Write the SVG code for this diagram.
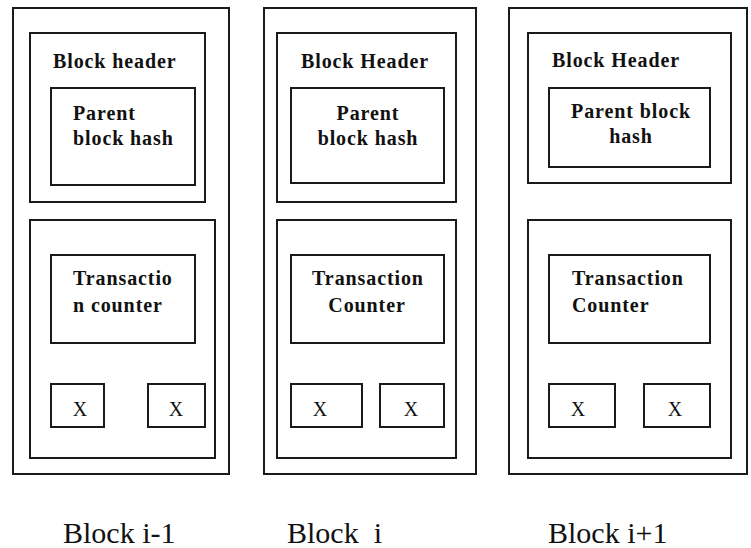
<svg xmlns="http://www.w3.org/2000/svg" width="751" height="548" viewBox="0 0 751 548">
<style>
rect{fill:#fff;stroke:#1a1a1a;stroke-width:2}
text{font-family:'Liberation Serif','Times New Roman',Tinos,'DejaVu Serif',serif;fill:#111}
.b{font-weight:bold;font-size:20px;letter-spacing:0.9px}
.x{font-size:20px;text-anchor:middle}
.l{font-size:30px}
.c{text-anchor:middle}
</style>
<rect x="0" y="0" width="751" height="548" style="stroke:none"/>
<g id="block1">
<rect x="13" y="8" width="216" height="466"/>
<rect x="30" y="33" width="175" height="169"/>
<text class="b" x="53" y="68">Block header</text>
<rect x="51" y="88" width="144" height="97"/>
<text class="b" x="73" y="120">Parent</text>
<text class="b" x="73" y="145">block hash</text>
<rect x="30" y="220" width="185" height="238"/>
<rect x="51" y="255" width="144" height="88"/>
<text class="b" x="73" y="285">Transactio</text>
<text class="b" x="73" y="312">n counter</text>
<rect x="51" y="384" width="53" height="43"/>
<text class="x" x="80" y="416">X</text>
<rect x="148" y="384" width="57" height="43"/>
<text class="x" x="176" y="416">X</text>
</g>
<g id="block2">
<rect x="264" y="8" width="212" height="466"/>
<rect x="277" y="33" width="179" height="169"/>
<text class="b c" x="365" y="68">Block Header</text>
<rect x="291" y="88" width="153" height="95"/>
<text class="b c" x="368" y="120">Parent</text>
<text class="b c" x="368" y="145">block hash</text>
<rect x="277" y="220" width="179" height="238"/>
<rect x="291" y="255" width="153" height="88"/>
<text class="b c" x="368" y="285">Transaction</text>
<text class="b c" x="367" y="312">Counter</text>
<rect x="291" y="384" width="71" height="43"/>
<text class="x" x="320" y="416">X</text>
<rect x="380" y="384" width="64" height="43"/>
<text class="x" x="411" y="416">X</text>
</g>
<g id="block3">
<rect x="509" y="8" width="238" height="466"/>
<rect x="528" y="33" width="203" height="150"/>
<text class="b" x="552" y="67">Block Header</text>
<rect x="549" y="88" width="161" height="79"/>
<text class="b c" x="631" y="118">Parent block</text>
<text class="b c" x="631" y="143">hash</text>
<rect x="528" y="220" width="203" height="238"/>
<rect x="549" y="255" width="161" height="88"/>
<text class="b" x="572" y="285">Transaction</text>
<text class="b" x="572" y="312">Counter</text>
<rect x="549" y="384" width="66" height="43"/>
<text class="x" x="578" y="416">X</text>
<rect x="644" y="384" width="66" height="43"/>
<text class="x" x="675" y="416">X</text>
</g>
<g id="labels">
<text class="l" x="63" y="543">Block i-1</text>
<text class="l" x="287" y="543" xml:space="preserve">Block  i</text>
<text class="l" x="548" y="543">Block i+1</text>
</g>
<g id="connectors"/>
</svg>
